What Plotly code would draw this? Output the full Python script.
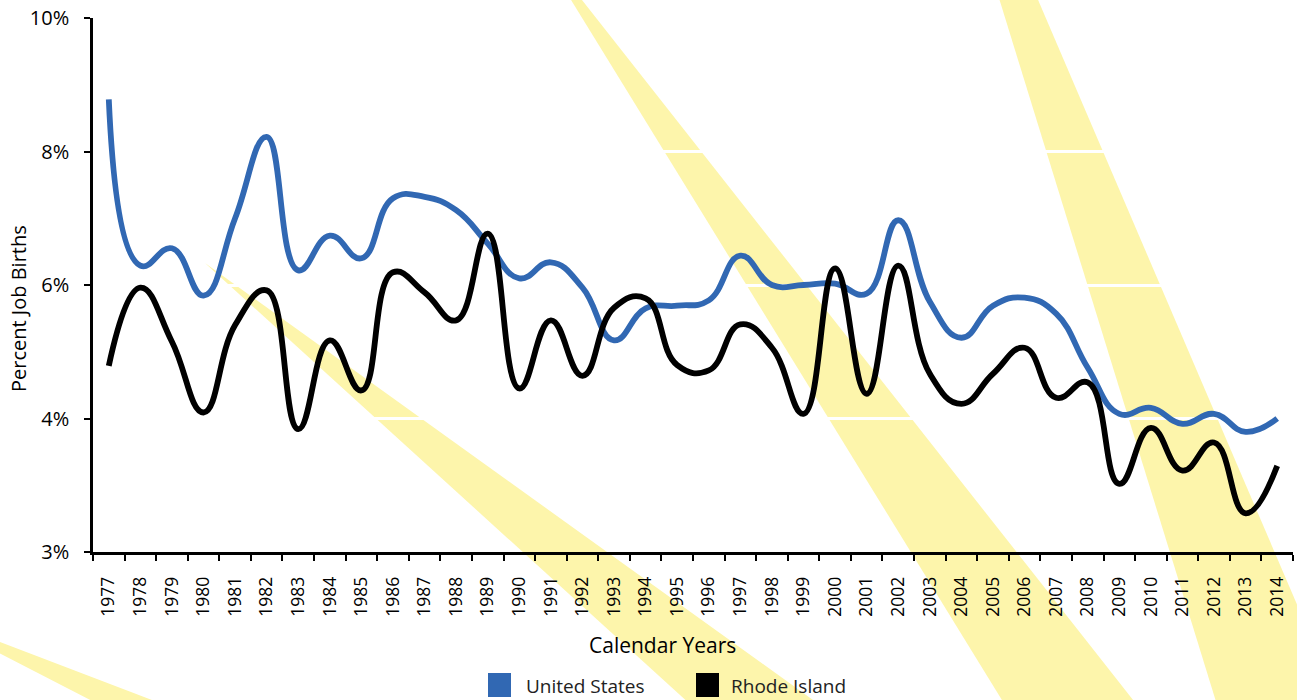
import plotly.graph_objects as go

# Calendar years and job-birth rates (percent)
years = [str(y) for y in range(1977, 2015)]
us_rate = [8.78, 6.29, 6.55, 5.84, 7.0, 8.22, 6.22, 6.74, 6.40, 7.3,
           7.32, 7.12, 6.62, 6.1, 6.34, 5.96, 5.17, 5.65, 5.69, 5.77,
           6.44, 6.0, 6.0, 6.02, 5.87, 6.97, 5.75, 5.21, 5.69, 5.81,
           5.57, 4.76, 4.07, 4.16, 3.96, 4.07, 3.9, 4.0]
ri_rate = [4.79, 5.96, 5.15, 4.09, 5.4, 5.92, 3.92, 5.17, 4.42, 6.19,
           5.89, 5.47, 6.77, 4.45, 5.47, 4.64, 5.66, 5.8, 4.8, 4.72,
           5.41, 5.06, 4.07, 6.25, 4.37, 6.29, 4.67, 4.22, 4.67, 5.06,
           4.31, 4.54, 3.51, 3.93, 3.61, 3.82, 3.29, 3.645]
y_ticks = [3, 4, 6, 8, 10]
y_tick_text = ["3%", "4%", "6%", "8%", "10%"]

W, H = 1297, 700
ML, MR, MT, MB = 93, 4, 18, 148
PW, PH = W - ML - MR, H - MT - MB

FONT = "Open Sans"
BLUE = "#3168b3"
YELLOW = "#fdf5ab"


def axis_pos(v):
    # the band from 3% to 4% is stretched to the height of a 2-point step
    return v if v >= 4 else 4 - 2 * (4 - v)


def px(x):
    return (x - ML) / PW


def py(y):
    return (MT + PH - y) / PH


def band(points):
    path = "M " + " L ".join(f"{px(x):.4f},{py(y):.4f}" for x, y in points) + " Z"
    return dict(type="path", xref="paper", yref="paper", path=path,
                fillcolor=YELLOW, line=dict(width=0), layer="below")


fig = go.Figure()
fig.add_trace(go.Scatter(
    x=years, y=[axis_pos(v) for v in us_rate], mode="lines", name="United States",
    line=dict(color=BLUE, width=5.8, shape="spline", smoothing=1.3),
    showlegend=False))
fig.add_trace(go.Scatter(
    x=years, y=[axis_pos(v) for v in ri_rate], mode="lines", name="Rhode Island",
    line=dict(color="black", width=5.8, shape="spline", smoothing=1.3),
    showlegend=False))

# decorative light rays behind the plot
shapes = [
    band([(568, -5), (578, -5), (1137, 705), (1005, 705)]),
    band([(998, -5), (1036, -5), (1340, 705), (1217, 705)]),
    band([(205, 263), (820, 705), (691, 705)]),
    band([(-5, 640), (165, 705), (100, 705), (-5, 651)]),
]
# legend swatches
shapes += [
    dict(type="rect", xref="paper", yref="paper", x0=px(488), x1=px(511),
         y0=py(697), y1=py(673), fillcolor=BLUE, line=dict(width=0)),
    dict(type="rect", xref="paper", yref="paper", x0=px(696), x1=px(719),
         y0=py(697), y1=py(673), fillcolor="black", line=dict(width=0)),
]

annotations = [
    dict(text="Percent Job Births", xref="paper", yref="paper", x=px(18), y=py(309),
         textangle=-90, showarrow=False, xanchor="center", yanchor="middle",
         font=dict(family=FONT, size=20, color="black")),
    dict(text="Calendar Years", xref="paper", yref="paper", x=px(662), y=py(645),
         showarrow=False, xanchor="center", yanchor="middle",
         font=dict(family=FONT, size=21, color="black")),
    dict(text="United States", xref="paper", yref="paper", x=px(524), y=py(686),
         showarrow=False, xanchor="left", yanchor="middle",
         font=dict(family=FONT, size=19, color="#222")),
    dict(text="Rhode Island", xref="paper", yref="paper", x=px(729), y=py(686),
         showarrow=False, xanchor="left", yanchor="middle",
         font=dict(family=FONT, size=19, color="#222")),
]

fig.update_layout(
    width=W, height=H,
    margin=dict(l=ML, r=MR, t=MT, b=MB, autoexpand=False),
    paper_bgcolor="white", plot_bgcolor="white",
    shapes=shapes, annotations=annotations,
    xaxis=dict(type="category", range=[-0.5, len(years) - 0.5],
               tickson="boundaries", ticks="outside", ticklen=6, tickwidth=2,
               tickcolor="black", showline=True, linecolor="black", linewidth=2.5,
               showgrid=False, tickangle=-90, ticklabelstandoff=15,
               tickfont=dict(family=FONT, size=17.5, color="black")),
    yaxis=dict(range=[2, 10], tickvals=[axis_pos(v) for v in y_ticks],
               ticktext=y_tick_text, ticks="outside", ticklen=6, tickwidth=2,
               tickcolor="black", showline=True, linecolor="black", linewidth=2.5,
               showgrid=True, gridcolor="white", gridwidth=2.5, zeroline=False,
               ticklabelstandoff=11,
               tickfont=dict(family=FONT, size=20, color="black")),
)

fig.write_html("out.html")
